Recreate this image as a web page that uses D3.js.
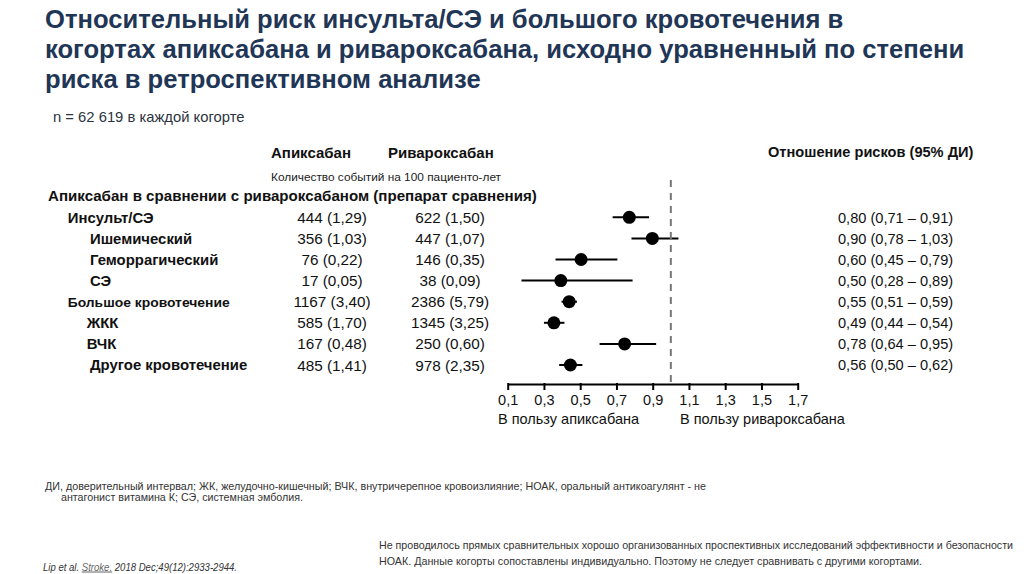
<!DOCTYPE html>
<html>
<head>
<meta charset="utf-8">
<script src="https://cdn.jsdelivr.net/npm/d3@7"></script>
<style>
  html, body { margin: 0; padding: 0; background: #ffffff; }
  svg text { font-family: "Liberation Sans", Arial, sans-serif; }
</style>
</head>
<body>
<div id="chart"><svg></svg></div>
<script>
// ---- data ----
var titleLines = [
  "Относительный риск инсульта/СЭ и большого кровотечения в",
  "когортах апиксабана и ривароксабана, исходно уравненный по степени",
  "риска в ретроспективном анализе"
];
var cohortNote = "n = 62 619 в каждой когорте";
var groupLabel = "Апиксабан в сравнении с ривароксабаном (препарат сравнения)";

var outcomes = ["Инсульт/СЭ", "Ишемический", "Геморрагический", "СЭ",
  "Большое кровотечение", "ЖКК", "ВЧК", "Другое кровотечение"];
var outcomeLevel = [0, 1, 1, 1, 0, 1, 1, 1];

var apixEvents = [444, 356, 76, 17, 1167, 585, 167, 485];
var apixRate = [1.29, 1.03, 0.22, 0.05, 3.40, 1.70, 0.48, 1.41];
var rivaEvents = [622, 447, 146, 38, 2386, 1345, 250, 978];
var rivaRate = [1.50, 1.07, 0.35, 0.09, 5.79, 3.25, 0.60, 2.35];

var hr = [0.80, 0.90, 0.60, 0.50, 0.55, 0.49, 0.78, 0.56];
var hrLow = [0.71, 0.78, 0.45, 0.28, 0.51, 0.44, 0.64, 0.50];
var hrHigh = [0.91, 1.03, 0.79, 0.89, 0.59, 0.54, 0.95, 0.62];

// where the marks actually sit on the printed axis (they drift a bit from the HR text)
var plotPoint = [0.771, 0.898, 0.505, 0.393, 0.439, 0.355, 0.745, 0.446];
var plotLow = [0.679, 0.783, 0.364, 0.176, 0.397, 0.300, 0.607, 0.384];
var plotHigh = [0.880, 1.042, 0.705, 0.789, 0.482, 0.413, 0.919, 0.512];

var xTicks = [0.1, 0.3, 0.5, 0.7, 0.9, 1.1, 1.3, 1.5, 1.7];
var refValue = 1.0;

var footAbbrev = [
  "ДИ, доверительный интервал; ЖК, желудочно-кишечный; ВЧК, внутричерепное кровоизлияние; НОАК, оральный антикоагулянт - не",
  "антагонист витамина К; СЭ, системная эмболия."
];
var footDisclaimer = [
  "Не проводилось прямых сравнительных хорошо организованных проспективных исследований эффективности и безопасности",
  "НОАК. Данные когорты сопоставлены индивидуально. Поэтому не следует сравнивать с другими когортами."
];

// ---- drawing ----
var width = 1024, height = 574;
var svg = d3.select("#chart svg").attr("width", width).attr("height", height);

var comma = function(v, digits) { return v.toFixed(digits).replace(".", ","); };

// title
svg.append("g").selectAll("text")
  .data(titleLines)
  .enter().append("text")
    .attr("x", 45)
    .attr("y", function(d, i) { return 28 + i * 30; })
    .attr("font-size", 25.6)
    .attr("font-weight", "bold")
    .attr("fill", "#1f3656")
    .text(function(d) { return d; });

svg.append("text")
  .attr("x", 53).attr("y", 121.5)
  .attr("font-size", 14.8)
  .attr("fill", "#2b3442")
  .text(cohortNote);

// table headers
var head = svg.append("g").attr("fill", "#111").attr("font-weight", "bold");
head.append("text").attr("x", 271).attr("y", 158).attr("font-size", 15).text("Апиксабан");
head.append("text").attr("x", 388).attr("y", 158).attr("font-size", 15).text("Ривароксабан");
head.append("text").attr("x", 768).attr("y", 157).attr("font-size", 14.6).text("Отношение рисков (95% ДИ)");

svg.append("text")
  .attr("x", 271).attr("y", 180.5)
  .attr("font-size", 11.5)
  .attr("fill", "#222")
  .attr("textLength", 230).attr("lengthAdjust", "spacingAndGlyphs")
  .text("Количество событий на 100 пациенто-лет");

svg.append("text")
  .attr("x", 48).attr("y", 200.5)
  .attr("font-size", 15.1)
  .attr("font-weight", "bold")
  .attr("fill", "#111")
  .text(groupLabel);

var y = d3.scalePoint().domain(outcomes).range([217.3, 365]);
var x = d3.scaleLinear().domain([0.1, 1.7]).range([507.7, 797.7]);

var rows = svg.append("g").selectAll("g.row")
  .data(outcomes)
  .enter().append("g")
    .attr("class", "row")
    .attr("transform", function(d) { return "translate(0," + y(d) + ")"; });

rows.append("text")
  .attr("x", function(d, i) {
    if (outcomeLevel[i] == 0) return 67.7;
    return (d == "ЖКК" || d == "ВЧК") ? 86.7 : 90;
  })
  .attr("dy", "0.36em")
  .attr("font-weight", "bold")
  .attr("font-size", function(d) { return d == "Большое кровотечение" ? 13.5 : 14.9; })
  .attr("fill", "#111")
  .each(function(d) {
    // this one is set in a narrower face on the slide
    if (d == "Большое кровотечение") {
      d3.select(this).attr("textLength", 162).attr("lengthAdjust", "spacingAndGlyphs");
    }
  })
  .text(function(d) { return d; });

rows.append("text")
  .attr("x", 332).attr("dy", "0.36em")
  .attr("text-anchor", "middle")
  .attr("font-size", 15.3)
  .attr("fill", "#111")
  .text(function(d, i) { return apixEvents[i] + " (" + comma(apixRate[i], 2) + ")"; });

rows.append("text")
  .attr("x", 450).attr("dy", "0.36em")
  .attr("text-anchor", "middle")
  .attr("font-size", 15.3)
  .attr("fill", "#111")
  .text(function(d, i) { return rivaEvents[i] + " (" + comma(rivaRate[i], 2) + ")"; });

rows.append("text")
  .attr("x", 838).attr("dy", "0.36em")
  .attr("font-size", 14.6)
  .attr("fill", "#111")
  .text(function(d, i) {
    return comma(hr[i], 2) + " (" + comma(hrLow[i], 2) + " \u2013 " + comma(hrHigh[i], 2) + ")";
  });

// reference line at HR = 1
svg.append("line")
  .attr("x1", x(refValue)).attr("x2", x(refValue))
  .attr("y1", 180).attr("y2", 383)
  .attr("stroke", "#777")
  .attr("stroke-width", 2)
  .attr("stroke-dasharray", "7,6");

// CI whiskers + point estimates
rows.append("line")
  .attr("x1", function(d, i) { return x(plotLow[i]); })
  .attr("x2", function(d, i) { return x(plotHigh[i]); })
  .attr("stroke", "#000")
  .attr("stroke-width", 2);

rows.append("circle")
  .attr("cx", function(d, i) { return x(plotPoint[i]); })
  .attr("r", 6.5)
  .attr("fill", "#000");

// x axis
var axis = svg.append("g")
  .attr("transform", "translate(0,384)")
  .call(d3.axisBottom(x)
    .tickValues(xTicks)
    .tickSizeOuter(0)
    .tickSizeInner(6)
    .tickPadding(5)
    .tickFormat(function(d) { return comma(d, 1); }));

axis.select(".domain").attr("stroke", "#000").attr("stroke-width", 2);
axis.selectAll(".tick line").attr("stroke", "#000").attr("stroke-width", 2).attr("y1", -1);
axis.selectAll(".tick text")
  .attr("font-family", "Liberation Sans, Arial, sans-serif")
  .attr("font-size", 14.5)
  .attr("fill", "#111");

svg.append("text")
  .attr("x", 498).attr("y", 424)
  .attr("font-size", 14.5).attr("fill", "#111")
  .text("В пользу апиксабана");
svg.append("text")
  .attr("x", 680).attr("y", 424)
  .attr("font-size", 14.5).attr("fill", "#111")
  .text("В пользу ривароксабана");

// footnotes
svg.append("text")
  .attr("x", 45).attr("y", 489.5)
  .attr("font-size", 10.5).attr("fill", "#333")
  .attr("textLength", 661).attr("lengthAdjust", "spacingAndGlyphs")
  .text(footAbbrev[0]);
svg.append("text")
  .attr("x", 61).attr("y", 500.5)
  .attr("font-size", 10.5).attr("fill", "#333")
  .attr("textLength", 242).attr("lengthAdjust", "spacingAndGlyphs")
  .text(footAbbrev[1]);

svg.append("g").selectAll("text")
  .data(footDisclaimer)
  .enter().append("text")
    .attr("x", 379)
    .attr("y", function(d, i) { return 548.5 + i * 16; })
    .attr("font-size", 10.5).attr("fill", "#333")
    .attr("textLength", function(d, i) { return i == 0 ? 634 : 543; })
    .attr("lengthAdjust", "spacingAndGlyphs")
    .text(function(d) { return d; });

var ref = svg.append("text")
  .attr("x", 43).attr("y", 570.5)
  .attr("font-size", 10).attr("font-style", "italic").attr("fill", "#333")
  .attr("textLength", 194).attr("lengthAdjust", "spacingAndGlyphs");
ref.append("tspan").text("Lip et al. ");
ref.append("tspan").attr("fill", "#666").attr("text-decoration", "underline").text("Stroke.");
ref.append("tspan").text(" 2018 Dec;49(12):2933-2944.");
</script>
</body>
</html>
